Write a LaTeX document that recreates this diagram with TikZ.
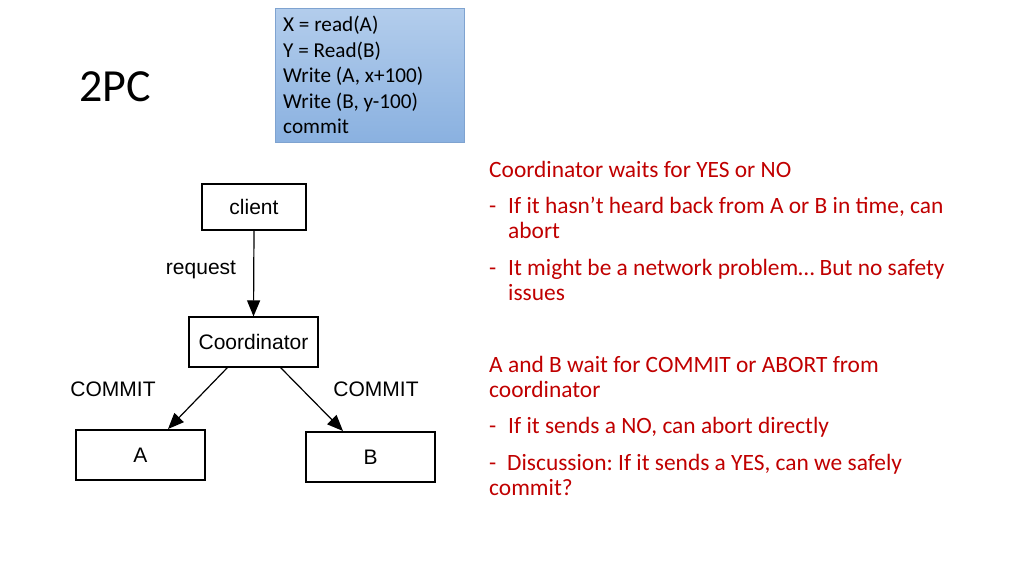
\documentclass[tikz,border=0pt]{standalone}
\usepackage{fontspec}
\setmainfont{Carlito}
\newfontfamily\arialfont{Liberation Sans}
\usetikzlibrary{arrows.meta}
\frenchspacing
\definecolor{txtred}{HTML}{C00000}
\definecolor{boxtop}{HTML}{B3CDEC}
\definecolor{boxbot}{HTML}{8AB1E0}
\definecolor{boxline}{HTML}{7FA3D0}
\tikzset{
  procbox/.style={draw=black, line width=1.2pt, fill=white, inner sep=0pt, font=\arialfont\fontsize{21}{25}\selectfont},
  lbl/.style={inner sep=0pt, font=\arialfont\fontsize{21}{25}\selectfont},
  redtxt/.style={inner sep=0pt, anchor=base west, text=txtred, font=\fontsize{23.4}{28}\selectfont},
  codetxt/.style={inner sep=0pt, anchor=base west, font=\fontsize{21.2}{25}\selectfont},
  msg/.style={line width=1.2pt, -{Triangle[length=16pt,width=13pt]}}
}
\begin{document}
\begin{tikzpicture}[x=1pt,y=-1pt]
\useasboundingbox (0,0) rectangle (1024,576);
% title
\node[inner sep=0pt, anchor=base west, font=\fontsize{46}{52}\selectfont] (title) at (79,101) {2PC};
% code box
\shade[top color=boxtop, bottom color=boxbot, draw=boxline, line width=0.6pt] (275,8) rectangle (464,142);
\node[codetxt] (c1) at (283,31.5) {X = read(A)};
\node[codetxt] (c2) at (283,57) {Y = Read(B)};
\node[codetxt] (c3) at (283,82.5) {Write (A, x+100)};
\node[codetxt] (c4) at (283,108) {Write (B, y-100)};
\node[codetxt] (c5) at (283,133.5) {commit};
% diagram
\node[procbox, minimum width=104pt, minimum height=46pt] (client) at (254,207) {client};
\node[procbox, minimum width=129pt, minimum height=50pt] (coord) at (253.5,342) {Coordinator};
\node[procbox, minimum width=129pt, minimum height=50pt] (A) at (140.5,455) {A};
\node[procbox, minimum width=129pt, minimum height=50pt] (B) at (370.5,457) {B};
\node[lbl] (req) at (201,270) {request};
\node[lbl] (cl) at (113,389) {COMMIT};
\node[lbl] (cr) at (376,389) {COMMIT};
\draw[msg] (client.south) -- (coord.north);
\coordinate (ca) at (228,367);
\coordinate (cb) at (280,367);
\draw[msg] (ca) -- (168,429);
\draw[msg] (cb) -- (343,431);
% red text
\node[redtxt] (t1) at (489,177) {Coordinator waits for YES or NO};
\node[redtxt] (d1) at (489,213) {-};
\node[redtxt] (t2) at (508,213) {If it hasn’t heard back from A or B in time, can};
\node[redtxt] (t3) at (508,238) {abort};
\node[redtxt] (d2) at (489,275) {-};
\node[redtxt] (t4) at (508,275) {It might be a network problem… But no safety};
\node[redtxt] (t5) at (508,300) {issues};
\node[redtxt] (t6) at (489,372) {A and B wait for COMMIT or ABORT from};
\node[redtxt] (t7) at (489,397) {coordinator};
\node[redtxt] (d3) at (489,433) {-};
\node[redtxt] (t8) at (508,433) {If it sends a NO, can abort directly};
\node[redtxt] (d4) at (489,470) {-};
\node[redtxt] (t9) at (507,470) {Discussion: If it sends a YES, can we safely};
\node[redtxt] (t10) at (489,495) {commit?};
\end{tikzpicture}
\end{document}
